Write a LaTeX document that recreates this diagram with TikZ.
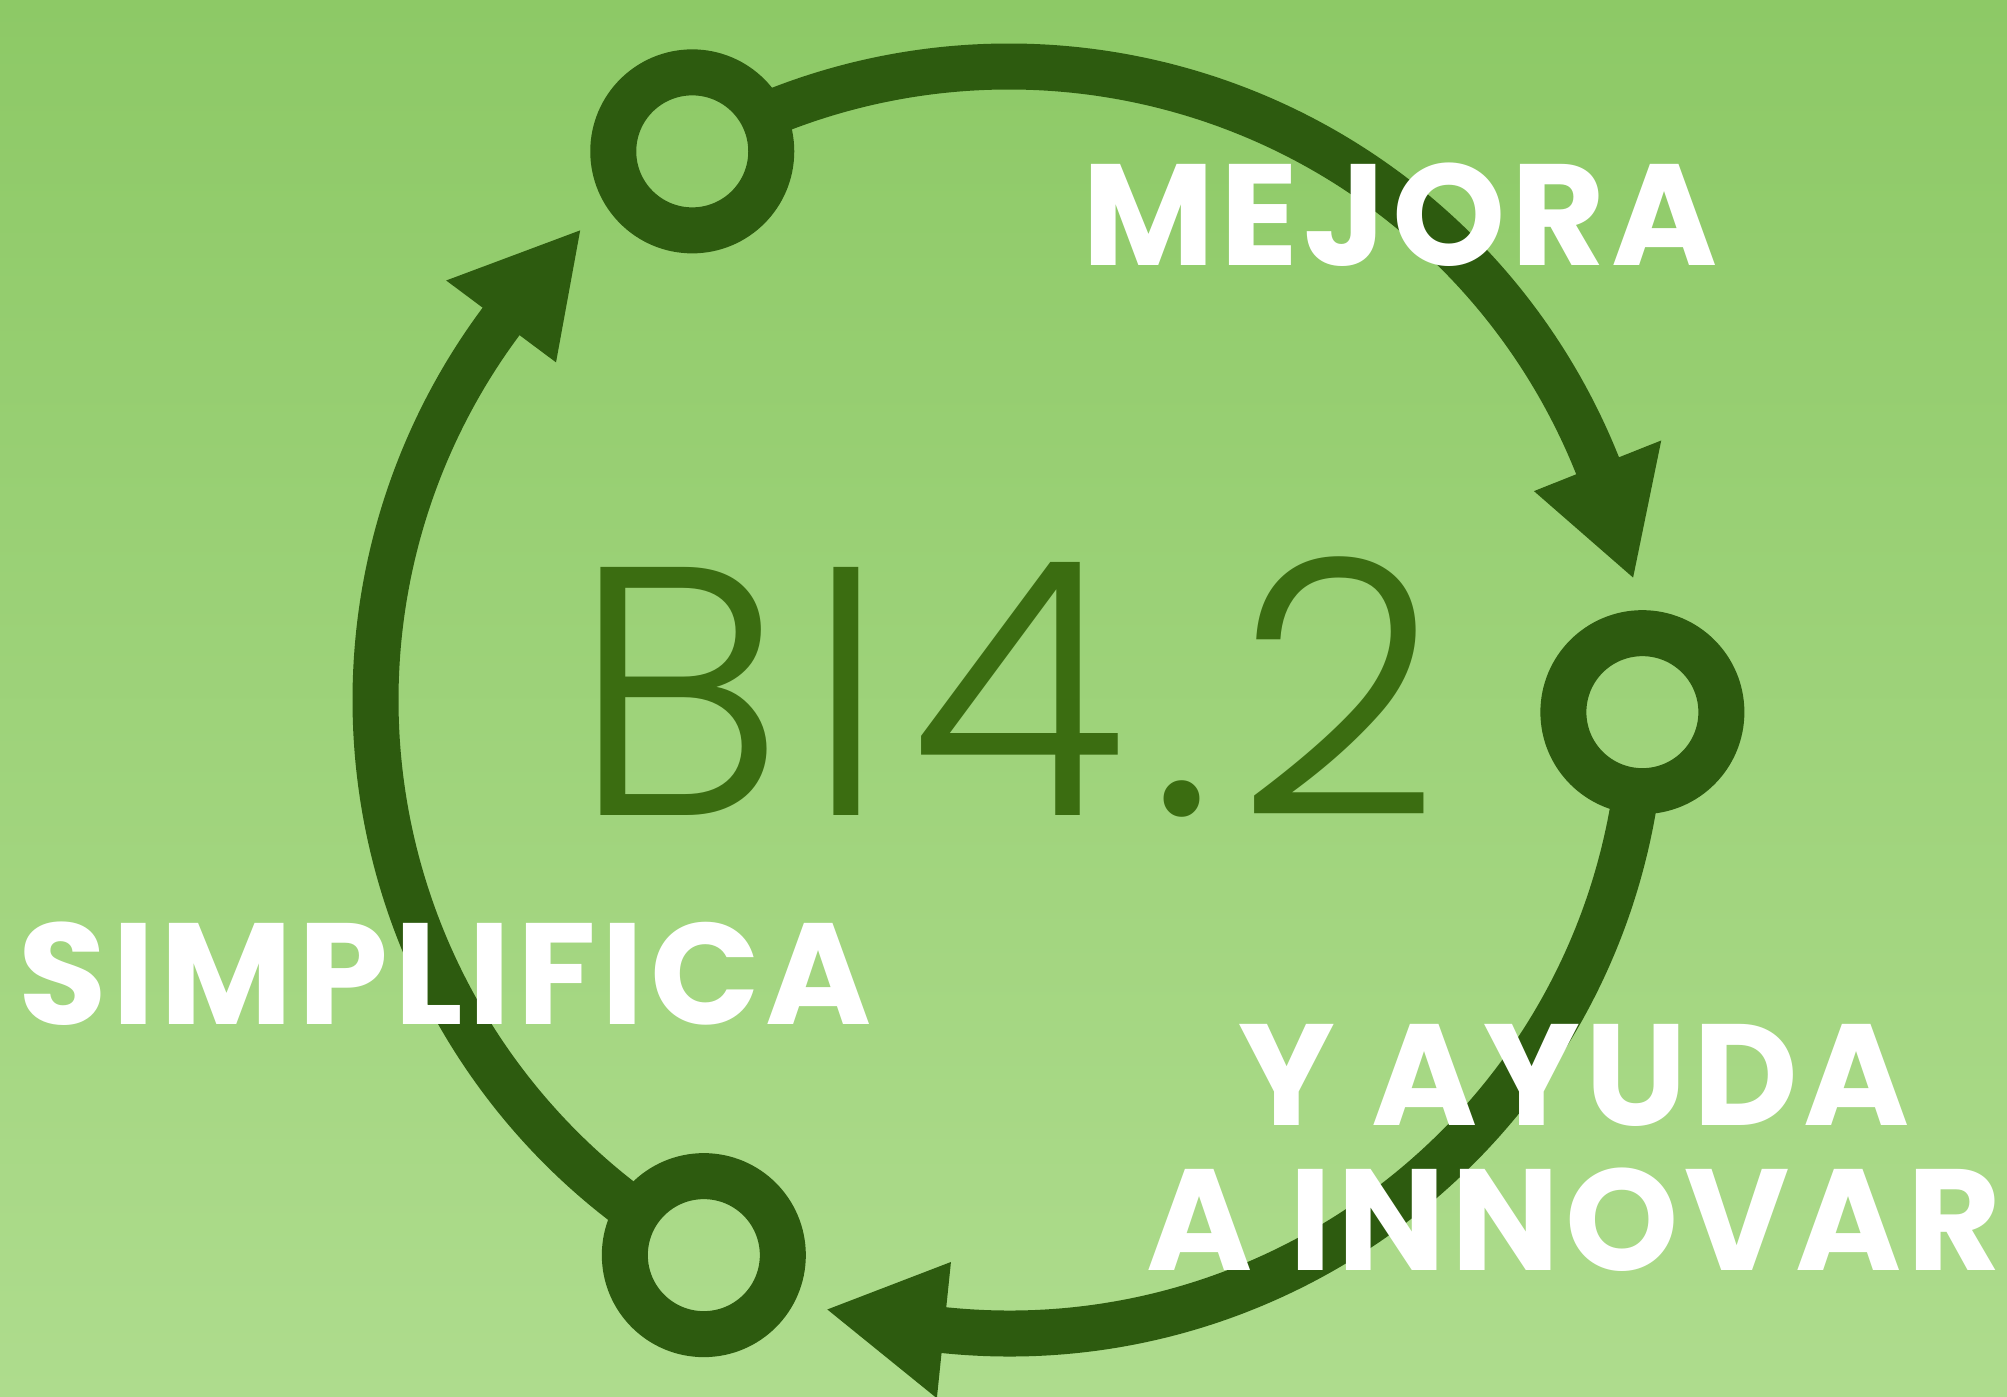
\documentclass[tikz,border=0pt]{standalone}
\usepackage{fontspec}
\usetikzlibrary{calc}
\newfontfamily\wordfont{Poppins}[LetterSpace=4]
\newfontfamily\titlefont{Poppins Light}[LetterSpace=6.3]
\definecolor{bgtop}{HTML}{8DC966}
\definecolor{bgbottom}{HTML}{AEDC8D}
\definecolor{ringgreen}{HTML}{2D5B0F}
\definecolor{titlegreen}{HTML}{3B6D11}
\tikzset{
  ring/.style={circle,draw=ringgreen,line width=0.46cm,minimum size=1.58cm,inner sep=0pt},
  flow/.style={draw=ringgreen,line width=0.46cm},
  head/.style={fill=ringgreen},
  wordlabel/.style={anchor=base,inner sep=0pt,text=white,font=\wordfont\bfseries\fontsize{41}{41}\selectfont}
}
\begin{document}
\begin{tikzpicture}
  \shade[top color=bgtop,bottom color=bgbottom] (0,0) rectangle (20.07,13.96);
  \useasboundingbox (0,0) rectangle (20.07,13.96);
  \coordinate (hub) at (10.09,6.96);

  % the three stations
  \node[ring] (ringa) at ($(hub)+(120:6.335)$) {};
  \node[ring] (ringb) at ($(hub)+(-1.1:6.335)$) {};
  \node[ring] (ringc) at ($(hub)+(241.2:6.335)$) {};

  % arcs between them
  \coordinate (outa) at ($(hub)+(112:6.335)$);
  \coordinate (outb) at ($(hub)+(-9.1:6.335)$);
  \coordinate (outc) at ($(hub)+(233.2:6.335)$);
  \draw[flow] (outa) arc[start angle=112,end angle=21.4,radius=6.335];
  \draw[flow] (outb) arc[start angle=-9.1,end angle=-96.3,radius=6.335];
  \draw[flow] (outc) arc[start angle=233.2,end angle=142.5,radius=6.335];

  % arrow heads
  \coordinate (tipb) at ($(hub)+(11.1:6.36)$);
  \coordinate (tipc) at ($(hub)+(253.4:6.36)$);
  \coordinate (tipa) at ($(hub)+(132.4:6.36)$);
  \fill[head] (tipb) -- ($(hub)+(21.7:5.65)$) -- ($(hub)+(21.7:7.02)$) -- cycle;
  \fill[head] (tipc) -- ($(hub)+(264.1:5.65)$) -- ($(hub)+(264.1:7.02)$) -- cycle;
  \fill[head] (tipa) -- ($(hub)+(143.3:5.65)$) -- ($(hub)+(143.3:7.02)$) -- cycle;

  \node[anchor=base,inner sep=0pt,text=titlegreen,font=\titlefont\fontsize{101}{101}\selectfont] (title) at (10.06,5.81) {BI4.2};

  \node[wordlabel] (mejora) at (14.00,11.31) {MEJORA};
  \node[wordlabel] (simplifica) at (4.45,3.72) {SIMPLIFICA};
  \node[wordlabel] (ayuda) at (15.74,2.71) {Y AYUDA};
  \node[wordlabel] (innovar) at (15.74,1.26) {A INNOVAR};
\end{tikzpicture}
\end{document}
